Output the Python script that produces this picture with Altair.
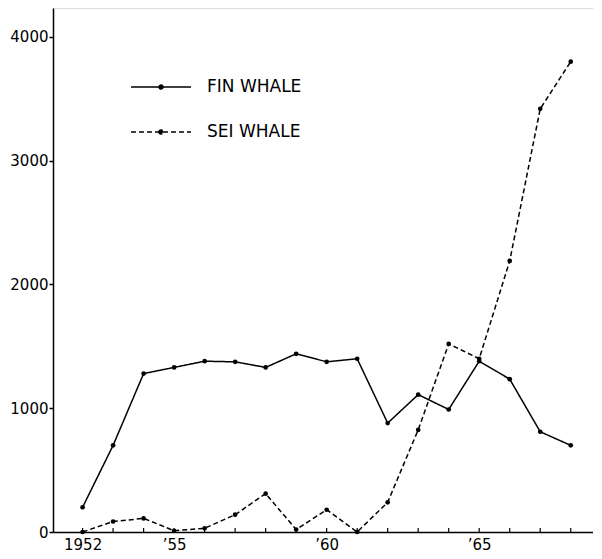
import altair as alt
import pandas as pd

years = list(range(1952, 1969))
fin_whale = [200, 700, 1280, 1330, 1380, 1375, 1330, 1440, 1375, 1400, 880, 1110, 990, 1380, 1235, 810, 700]
sei_whale = [0, 85, 110, 10, 30, 140, 310, 20, 180, 0, 240, 825, 1520, 1400, 2190, 3420, 3800]
series_names = ["FIN WHALE", "SEI WHALE"]
label_years = [1952, 1955, 1960, 1965]
y_ticks = [0, 1000, 2000, 3000, 4000]

df = pd.DataFrame({
    "year": years * 2,
    "value": fin_whale + sei_whale,
    "series": [series_names[0]] * len(years) + [series_names[1]] * len(years),
})
tick_df = pd.DataFrame({"year": years})

W, H = 540, 524
FONT = "DejaVu Sans"

xscale = alt.Scale(domain=[1951.03, 1968.73], nice=False, zero=False)
yscale = alt.Scale(domain=[0, 4234], nice=False, zero=False)

x = alt.X("year:Q", scale=xscale, axis=alt.Axis(
    values=label_years, title=None, ticks=False, grid=False,
    labelExpr="datum.value == 1952 ? '1952' : '\u2019' + substring(toString(datum.value), 2, 4)",
    labelFont=FONT, labelFontSize=15, labelColor="black", labelPadding=5,
    domainColor="black", domainWidth=1.5))
y = alt.Y("value:Q", scale=yscale, axis=alt.Axis(
    values=y_ticks, format="d", title=None, grid=False, tickSize=4, tickColor="black", tickWidth=1.5,
    labelFont=FONT, labelFontSize=15, labelColor="black", labelPadding=1,
    domainColor="black", domainWidth=1.5))

legend_symbol = "M-3,0H3M-0.2,0A0.2,0.2,0,1,1,0.2,0A0.2,0.2,0,1,1,-0.2,0Z"

lines = alt.Chart(df).mark_line(color="black", strokeWidth=1.5).encode(
    x=x, y=y,
    strokeDash=alt.StrokeDash("series:N",
        scale=alt.Scale(domain=series_names, range=[[1, 0], [5, 3]]),
        legend=alt.Legend(orient="none", legendX=97, legendY=68, title=None,
                          symbolType=legend_symbol, symbolSize=400,
                          symbolStrokeWidth=1.5, symbolStrokeColor="black",
                          symbolFillColor="black", labelOffset=35,
                          labelFont=FONT, labelFontSize=17, labelColor="black",
                          rowPadding=26, padding=0)),
)
points = alt.Chart(df).mark_circle(color="black", size=22, opacity=1).encode(x=x, y=y)
ticks = alt.Chart(tick_df).mark_rule(color="black", strokeWidth=1.2).encode(
    x=alt.X("year:Q", scale=xscale),
    y=alt.value(H), y2=alt.value(H - 4))

chart = alt.layer(ticks, lines, points).properties(
    width=W, height=H,
    autosize=alt.AutoSizeParams(type="none"),
    padding={"left": 45, "top": 0, "right": 0, "bottom": 27},
).configure_view(stroke=None).configure(background="white")

chart.save("out.html", embed_options={"renderer": "svg", "actions": False})
